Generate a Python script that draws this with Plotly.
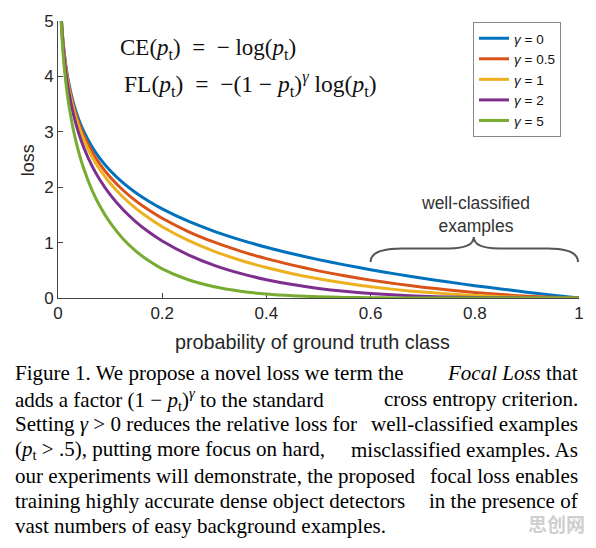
import plotly.graph_objects as go

# ---- data ----
p_vals = [0.005, 0.0075, 0.01, 0.015, 0.02, 0.03, 0.04, 0.05, 0.065, 0.08, 0.1, 0.125,
          0.15, 0.175, 0.2, 0.25, 0.3, 0.35, 0.4, 0.45, 0.5, 0.55, 0.6, 0.65, 0.7, 0.75,
          0.8, 0.85, 0.9, 0.95, 1.0]
loss_g0 = [5.298, 4.893, 4.605, 4.200, 3.912, 3.507, 3.219, 2.996, 2.733, 2.526, 2.303, 2.079,
           1.897, 1.743, 1.609, 1.386, 1.204, 1.050, 0.916, 0.799, 0.693, 0.598, 0.511, 0.431,
           0.357, 0.288, 0.223, 0.163, 0.105, 0.051, 0.0]
loss_g05 = [5.285, 4.875, 4.582, 4.168, 3.873, 3.454, 3.154, 2.920, 2.643, 2.423, 2.185, 1.945,
            1.749, 1.583, 1.439, 1.200, 1.007, 0.847, 0.710, 0.593, 0.490, 0.401, 0.323, 0.255,
            0.196, 0.144, 0.100, 0.063, 0.033, 0.012, 0.0]
loss_g1 = [5.272, 4.856, 4.559, 4.137, 3.834, 3.402, 3.090, 2.846, 2.555, 2.324, 2.072, 1.819,
           1.612, 1.438, 1.287, 1.040, 0.843, 0.682, 0.550, 0.439, 0.347, 0.269, 0.204, 0.151,
           0.107, 0.072, 0.045, 0.024, 0.011, 0.003, 0.0]
loss_g2 = [5.245, 4.820, 4.513, 4.075, 3.757, 3.300, 2.967, 2.704, 2.389, 2.138, 1.865, 1.592,
           1.371, 1.186, 1.030, 0.780, 0.590, 0.444, 0.330, 0.242, 0.173, 0.121, 0.082, 0.053,
           0.032, 0.018, 0.009, 0.004, 0.001, 0.0001, 0.0]
loss_g5 = [5.167, 4.712, 4.379, 3.894, 3.536, 3.012, 2.625, 2.318, 1.953, 1.665, 1.360, 1.066,
           0.842, 0.666, 0.527, 0.329, 0.202, 0.122, 0.071, 0.040, 0.022, 0.011, 0.005, 0.002,
           0.001, 0.0003, 0.0001, 0.0, 0.0, 0.0, 0.0]
series_names = ["<i>γ</i> = 0", "<i>γ</i> = 0.5", "<i>γ</i> = 1", "<i>γ</i> = 2", "<i>γ</i> = 5"]
series_vals = [loss_g0, loss_g05, loss_g1, loss_g2, loss_g5]
colors = ["#0072BD", "#D95319", "#EDB120", "#7E2F8E", "#77AC30"]
x_ticks = [0, 0.2, 0.4, 0.6, 0.8, 1]
x_tick_text = ["0", "0.2", "0.4", "0.6", "0.8", "1"]
y_ticks = [0, 1, 2, 3, 4, 5]

caption_lines = [
    ("Figure 1. We propose a novel loss we term the", "<i>Focal Loss</i> that"),
    ("adds a factor (1 − <i>p</i><sub>t</sub>)<sup><i>γ</i></sup> to the standard", "cross entropy criterion."),
    ("Setting <i>γ</i> > 0 reduces the relative loss for", "well-classified examples"),
    ("(<i>p</i><sub>t</sub> > .5), putting more focus on hard,", "misclassified examples. As"),
    ("our experiments will demonstrate, the proposed", "focal loss enables"),
    ("training highly accurate dense object detectors", "in the presence of"),
    ("vast numbers of easy background examples.", None),
]

# ---- layout geometry (pixels) ----
FW, FH = 596, 548
L, T, PW, PH = 58, 13, 526, 285


def px(x):
    return (x - L) / PW


def py(y):
    return (T + PH - y) / PH


SANS = "Liberation Sans, Arial, sans-serif"
SERIF = "Liberation Serif, Times New Roman, serif"

fig = go.Figure()
for name, vals, c in zip(series_names, series_vals, colors):
    fig.add_trace(go.Scatter(x=p_vals, y=vals, mode="lines", name=name,
                             line=dict(color=c, width=3, shape="spline", smoothing=0.6)))

axis_common = dict(showgrid=False, zeroline=False, showline=True, linecolor="#444",
                   linewidth=1, ticks="inside", ticklen=5, tickcolor="#444",
                   tickfont=dict(family=SANS, size=17, color="#262626"),
                   layer="below traces", mirror=False)

fig.update_layout(
    width=FW, height=FH,
    margin=dict(l=L, r=FW - L - PW, t=T, b=FH - T - PH),
    paper_bgcolor="white", plot_bgcolor="white",
    xaxis=dict(range=[0, 1], tickvals=x_ticks, ticktext=x_tick_text, **axis_common),
    yaxis=dict(range=[0, 5], tickvals=y_ticks, **axis_common),
    showlegend=True,
    legend=dict(x=px(477), y=py(14), xanchor="left", yanchor="top",
                bordercolor="#888", borderwidth=1, bgcolor="white",
                font=dict(family=SANS, size=13.5, color="#111"),
                itemwidth=30, tracegroupgap=0, entrywidth=92, entrywidthmode="pixels"),
)

ann = []
# axis titles
ann.append(dict(text="probability of ground truth class", x=px(315), y=py(343),
                font=dict(family=SANS, size=19.8, color="#262626")))
ann.append(dict(text="loss", x=px(28), y=py(156), textangle=-90,
                font=dict(family=SANS, size=18, color="#262626")))
# formulas
ann.append(dict(text="CE(<i>p</i><sub>t</sub>)  =  − log(<i>p</i><sub>t</sub>)",
                x=px(119), y=py(42), xanchor="left",
                font=dict(family=SERIF, size=23, color="#111")))
ann.append(dict(text="FL(<i>p</i><sub>t</sub>)  =  −(1 − <i>p</i><sub>t</sub>)<sup><i>γ</i></sup> log(<i>p</i><sub>t</sub>)",
                x=px(123), y=py(78), xanchor="left",
                font=dict(family=SERIF, size=23.5, color="#111")))
# well-classified label
ann.append(dict(text="well-classified<br>examples", x=px(480), y=py(212),
                font=dict(family=SANS, size=17.5, color="#333")))
# caption
line_y = [375, 402, 428, 454, 481, 507, 533]
for (left, right), yy in zip(caption_lines, line_y):
    ann.append(dict(text=left, x=px(13), y=py(yy), xanchor="left",
                    font=dict(family=SERIF, size=21, color="black")))
    if right:
        ann.append(dict(text=right, x=px(585), y=py(yy), xanchor="right",
                        font=dict(family=SERIF, size=21, color="black")))
# watermark
ann.append(dict(text="<b>思创网</b>", x=px(592), y=py(530), xanchor="right",
                font=dict(family="Noto Sans CJK SC", size=19, color="#cfcfcf")))

for a in ann:
    a.setdefault("xanchor", "center")
    a.update(xref="paper", yref="paper", showarrow=False, yanchor="middle")
fig.update_layout(annotations=ann)

# curly brace over well-classified region (data coords)
brace = ("M 0.6,0.65 Q 0.6,0.895 0.66,0.895 L 0.75,0.895 Q 0.798,0.895 0.798,1.1 "
         "Q 0.798,0.895 0.846,0.895 L 0.94,0.895 Q 0.998,0.895 0.998,0.65")
fig.add_shape(type="path", path=brace, xref="x", yref="y",
              line=dict(color="#555", width=2))

fig.write_html("out.html")
